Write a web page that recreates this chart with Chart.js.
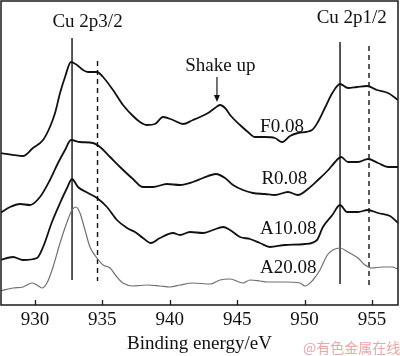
<!DOCTYPE html>
<html><head><meta charset="utf-8">
<script src="https://cdn.jsdelivr.net/npm/chart.js@4.4.1/dist/chart.umd.min.js"></script>
<style>html,body{margin:0;padding:0;background:#fff}#wrap{width:400px;height:356px;position:relative}</style>
</head><body><div id="wrap"><canvas id="c" width="400" height="356"></canvas></div>
<script>
// ---- data (binding energy in eV, intensity in arbitrary stacked units) ----
const xTicks = [930, 935, 940, 945, 950, 955];

const f08E = [927.41,929.11,929.85,930.60,931.11,931.49,931.86,932.23,932.67,933.12,933.56,933.93,934.60,935.05,935.79,936.53,937.27,937.79,938.31,938.90,939.50,940.24,940.98,941.72,942.24,942.84,943.35,943.72,944.10,944.54,945.21,945.80,946.32,947.06,947.80,948.33,948.92,949.51,950.55,950.99,951.54,952.06,952.63,953.22,953.89,954.63,955.37,956.19,956.93];
const f08I = [152,149,157,165,178,192,212,228,243,240,235,233,233,228,215,200,189,183,180,181,188,185,181,185,188,192,197,200,197,189,180,173,168,168,167,163,169,172,175,183,198,212,221,217,218,219,215,212,205];

const r08E = [927.41,928.15,928.89,929.63,930.37,931.11,931.71,932.23,932.67,933.34,934.30,934.82,935.57,936.31,937.27,938.01,938.75,939.79,940.76,941.72,942.46,943.43,944.10,944.69,945.43,946.17,947.06,947.80,948.77,949.51,950.25,950.99,951.76,952.26,952.71,953.22,953.96,954.70,955.45,956.19,956.93];
const r08I = [92,98,101,100,108,125,142,155,165,163,162,158,148,138,126,118,118,121,120,123,127,131,127,120,115,112,111,110,113,110,116,125,135,143,148,143,143,146,142,138,138];

const a1E = [927.41,928.37,929.11,930.15,930.60,931.26,931.86,932.38,932.75,933.19,933.93,934.60,935.34,936.08,936.83,937.42,938.01,938.60,939.27,940.24,940.76,941.50,942.46,943.21,943.95,944.47,945.21,945.95,946.69,947.43,948.55,950.03,950.92,951.36,952.06,952.63,953.15,953.96,954.70,955.45,956.34,956.93];
const a1I = [45,48,45,47,58,83,102,117,126,118,112,107,98,85,77,73,67,62,67,72,70,73,72,75,78,75,68,66,62,58,60,61,65,78,90,100,93,93,95,92,89,82];

const a2E = [927.41,928.37,929.11,929.78,930.15,930.52,930.89,931.34,931.86,932.38,932.75,933.04,933.34,933.71,934.08,934.60,935.05,935.57,936.08,936.53,937.27,938.31,939.27,940.02,940.76,941.72,942.99,943.72,944.47,945.43,945.95,946.69,947.21,948.55,949.66,950.03,950.62,951.14,951.69,952.10,952.63,953.22,953.96,954.48,955.00,955.74,956.48,956.93];
const a2I = [14,17,18,22,20,17,22,38,62,83,95,98,92,75,58,47,40,37,28,22,19,20,19,18,20,22,21,25,26,22,25,24,23,23,22,19,25,35,50,55,57,53,47,40,37,38,38,36];

// reference peak positions (eV) and their vertical extents (intensity units)
const peakPos    = [932.75, 934.64, 952.63, 954.78];
const peakTop    = [267, 244, 263, 259];
const peakBottom = [25, 24, 21, 17];
const peakDashed = [false, true, false, true];

const seriesNames = ['F0.08', 'R0.08', 'A10.08', 'A20.08'];
const shakeUpE = 943.5;        // arrow position
const shakeUpRange = [228, 203];

// ---- chart ----
const pts = (E, I) => E.map((e, i) => ({x: e, y: I[i]}));
const curveStyle = (c, w) => ({borderColor: c, borderWidth: w, pointRadius: 0, cubicInterpolationMode: 'monotone', fill: false});

const datasets = [
  Object.assign({label: seriesNames[0], data: pts(f08E, f08I)}, curveStyle('#111', 1.8)),
  Object.assign({label: seriesNames[1], data: pts(r08E, r08I)}, curveStyle('#111', 1.8)),
  Object.assign({label: seriesNames[2], data: pts(a1E, a1I)}, curveStyle('#111', 1.8)),
  Object.assign({label: seriesNames[3], data: pts(a2E, a2I)}, curveStyle('#707070', 1.2)),
];
peakPos.forEach((p, i) => {
  datasets.push({label: 'peak' + i, data: [{x: p, y: peakTop[i]}, {x: p, y: peakBottom[i]}],
    borderColor: '#111', borderWidth: 1.4, pointRadius: 0, tension: 0,
    borderDash: peakDashed[i] ? [5, 4] : []});
});

const FONT = '"Liberation Serif", "Times New Roman", serif';
const annotations = [
  {text: 'Cu 2p3/2', x: 933.9, y: 278, align: 'center'},
  {text: 'Cu 2p1/2', x: 953.5, y: 282, align: 'center'},
  {text: 'Shake up', x: 943.75, y: 234, align: 'center'},
  {text: seriesNames[0], x: 946.7, y: 173, align: 'left'},
  {text: seriesNames[1], x: 946.8, y: 121, align: 'left'},
  {text: seriesNames[2], x: 946.7, y: 71, align: 'left'},
  {text: seriesNames[3], x: 946.7, y: 32, align: 'left'},
];

const decor = {
  id: 'decor',
  afterDatasetsDraw(chart) {
    const {ctx, chartArea: a, scales: {x, y}} = chart;
    ctx.save();
    // frame
    ctx.strokeStyle = '#1a1a1a';
    ctx.lineWidth = 1.5;
    ctx.strokeRect(a.left, a.top, a.right - a.left, a.bottom - a.top);
    // inward ticks
    ctx.lineWidth = 1.3;
    x.ticks.forEach(t => {
      const px = Math.round(x.getPixelForValue(t.value)) + 0.5;
      ctx.beginPath(); ctx.moveTo(px, a.bottom); ctx.lineTo(px, a.bottom - 5); ctx.stroke();
    });
    // text annotations
    ctx.fillStyle = '#111';
    ctx.font = '19px ' + FONT;
    ctx.textBaseline = 'alphabetic';
    annotations.forEach(n => {
      ctx.textAlign = n.align;
      ctx.fillText(n.text, x.getPixelForValue(n.x), y.getPixelForValue(n.y));
    });
    // shake-up arrow
    const ax = x.getPixelForValue(shakeUpE);
    const y0 = y.getPixelForValue(shakeUpRange[0]);
    const y1 = y.getPixelForValue(shakeUpRange[1]);
    ctx.lineWidth = 1.2;
    ctx.beginPath(); ctx.moveTo(ax, y0); ctx.lineTo(ax, y1 - 4); ctx.stroke();
    ctx.beginPath(); ctx.moveTo(ax - 3, y1 - 7); ctx.lineTo(ax, y1); ctx.lineTo(ax + 3, y1 - 7); ctx.closePath(); ctx.fill();
    // watermark
    ctx.fillStyle = '#eba6a6';
    ctx.font = '14px "Noto Sans CJK SC", sans-serif';
    ctx.textAlign = 'left';
    ctx.fillText('@有色金属在线', 303, 353);
    ctx.restore();
  }
};

new Chart(document.getElementById('c'), {
  type: 'line',
  data: {datasets},
  options: {
    responsive: false, animation: false, devicePixelRatio: 1,
    layout: {padding: {left: 1, right: 2, top: 1, bottom: 0}},
    plugins: {legend: {display: false}, tooltip: {enabled: false}},
    scales: {
      x: {
        type: 'linear', min: 927.48, max: 956.93,
        afterBuildTicks: s => { s.ticks = xTicks.map(v => ({value: v})); },
        afterFit: s => { s.height = 51; },
        grid: {display: false, drawTicks: false},
        border: {display: false},
        ticks: {padding: 4, color: '#111', font: {family: FONT, size: 19}, maxRotation: 0},
        title: {display: true, text: 'Binding energy/eV', color: '#111', padding: {top: 0, bottom: 1},
                font: {family: FONT, size: 19}}
      },
      y: {type: 'linear', min: 0, max: 304, display: false}
    }
  },
  plugins: [decor]
});
</script>
</body></html>
